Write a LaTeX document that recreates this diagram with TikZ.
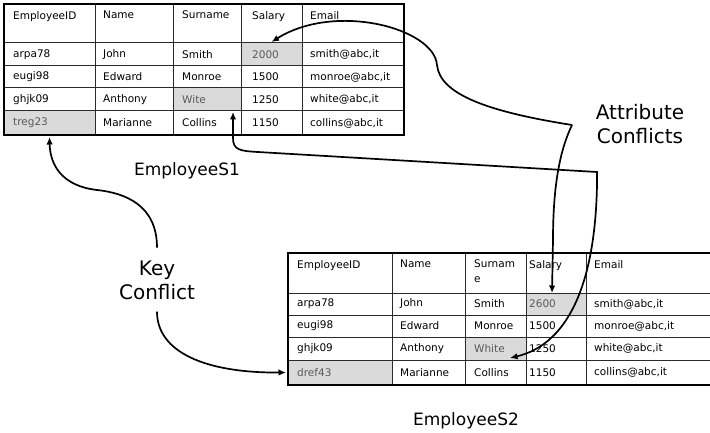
\documentclass[tikz,border=0pt]{standalone}
\usepackage{fontspec}
\setmainfont{DejaVu Sans}
\usetikzlibrary{arrows.meta}
\pgfdeclarelayer{background}
\pgfsetlayers{background,main}
\definecolor{shadec}{HTML}{DADADA}
\definecolor{gridc}{HTML}{2A2A2A}
\definecolor{graytxt}{HTML}{5A5A5A}
\tikzset{
 cellbox/.style={draw=gridc, line width=1pt, inner sep=0pt, outer sep=0pt, rectangle},
 celltext/.style={font=\fontsize{10.5}{15}\selectfont, inner sep=0pt, text=black},
 outerbox/.style={draw=black, line width=2.8pt},
 conn/.style={line width=1.7pt, draw=black, -{Latex[length=7.5pt,width=6.5pt]}},
 connboth/.style={line width=1.7pt, draw=black, {Latex[length=7.5pt,width=6.5pt]}-{Latex[length=7.5pt,width=6.5pt]}},
 biglabel/.style={font=\fontsize{20}{24}\selectfont, inner sep=0pt, align=center},
 tablename/.style={font=\fontsize{17}{20}\selectfont, inner sep=0pt, anchor=base},
}
% #1 mode (w = row, h = header), #2 name, #3 x0, #4 y0, #5 x1, #6 y1, #7 text, #8 pad
\newcommand\mycell[8]{%
 \pgfmathsetmacro\cw{#5-#3}\pgfmathsetmacro\ch{#6-#4}%
 \node[cellbox, minimum width=\cw pt, minimum height=\ch pt] (#2) at ({(#3+#5)/2},{(#4+#6)/2}) {};%
 \ifx w#1\relax
  \node[celltext, anchor=west] (#2t) at ([xshift=#8pt]#2.west) {#7};%
 \else
  \node[celltext, anchor=north west, align=left] (#2t) at ([xshift=#8pt,yshift=-7pt]#2.north west) {#7};%
 \fi}
% #1 mode, #2 name prefix, #3 y0, #4 y1, #5..#9 texts
\newcommand\trow[9]{%
 \mycell{#1}{#2c1}{\XA}{#3}{\XB}{#4}{#5}{9}%
 \mycell{#1}{#2c2}{\XB}{#3}{\XC}{#4}{#6}{8}%
 \mycell{#1}{#2c3}{\XC}{#3}{\XD}{#4}{#7}{9}%
 \mycell{#1}{#2c4}{\XD}{#3}{\XE}{#4}{#8}{\PD}%
 \mycell{#1}{#2c5}{\XE}{#3}{\XF}{#4}{#9}{8}}
\newcommand\gt[1]{\textcolor{graytxt}{#1}}
\begin{document}
\begin{tikzpicture}[x=1pt,y=-1pt]
\useasboundingbox (0,0) rectangle (710,433);
\begin{pgfonlayer}{background}
\fill[white] (0,0) rectangle (710,433);
\end{pgfonlayer}
% ---------- Table EmployeeS1
\def\XA{4}\def\XB{95}\def\XC{173}\def\XD{241}\def\XE{302}\def\XF{404}\def\PD{11}
\trow{h}{a0}{4}{43}{EmployeeID}{Name}{Surname}{Salary}{Email}
\trow{w}{a1}{43}{66}{arpa78}{John}{Smith}{\gt{2000}}{smith@abc,it}
\trow{w}{a2}{66}{88}{eugi98}{Edward}{Monroe}{1500}{monroe@abc,it}
\trow{w}{a3}{88}{111}{ghjk09}{Anthony}{\gt{Wite}}{1250}{white@abc,it}
\trow{w}{a4}{111}{135}{\gt{treg23}}{Marianne}{Collins}{1150}{collins@abc,it}
\draw[outerbox] (a0c1.north west) rectangle (a4c5.south east);
% ---------- Table EmployeeS2
\def\XA{288}\def\XB{392}\def\XC{465}\def\XD{526}\def\XE{586}\def\XF{720}\def\PD{3}
\trow{h}{b0}{253}{293}{EmployeeID}{Name}{Surnam\\e}{Salary}{Email}
\trow{w}{b1}{293}{315}{arpa78}{John}{Smith}{\gt{2600}}{smith@abc,it}
\trow{w}{b2}{315}{337}{eugi98}{Edward}{Monroe}{1500}{monroe@abc,it}
\trow{w}{b3}{337}{360}{ghjk09}{Anthony}{\gt{White}}{1250}{white@abc,it}
\trow{w}{b4}{360}{385}{\gt{dref43}}{Marianne}{Collins}{1150}{collins@abc,it}
\draw[outerbox] (b0c1.north west) rectangle (b4c5.south east);
% ---------- shading
\begin{pgfonlayer}{background}
\foreach \c in {a1c4,a3c3,a4c1,b1c4,b3c3,b4c1}
  \fill[shadec] (\c.north west) rectangle (\c.south east);
\end{pgfonlayer}
% ---------- labels
\node[tablename] (s1name) at (187,176) {EmployeeS1};
\node[tablename] (s2name) at (466,425) {EmployeeS2};
\node[biglabel] (attrlabel) at (640,124.4) {Attribute\\Conflicts};
\node[biglabel] (keylabel) at (157,280) {Key\\Conflict};
\coordinate (attrjoint) at (572,125);
% ---------- connectors
\draw[conn] ([yshift=12.8pt]keylabel.north) .. controls (157,205) and (125,193) .. (97,190)
  .. controls (62,186) and (50,165) .. ([yshift=-2pt]a4c1.south);
\draw[conn] ([yshift=-12pt]keylabel.south) .. controls (157,352) and (205,373) .. ([xshift=-2pt]b4c1.west);
\draw[conn] (attrjoint) .. controls (490,112) and (440,95) .. (437,65)
  .. controls (434,28) and (335,2) .. ([yshift=1pt]a1c4.north);
\draw[conn] (attrjoint) .. controls (560,150) and (553,185) .. (553,240) -- ([xshift=-4pt]b1c4.north);
\draw[connboth] ([xshift=-8pt,yshift=-1pt]a3c3.south east) -- (233,138)
  .. controls (233,150) and (240,151) .. (258,152) -- (597,172) -- (597,185)
  .. controls (595,290) and (565,345) .. ([xshift=-16pt,yshift=2pt]b3c3.south east);
\end{tikzpicture}
\end{document}
